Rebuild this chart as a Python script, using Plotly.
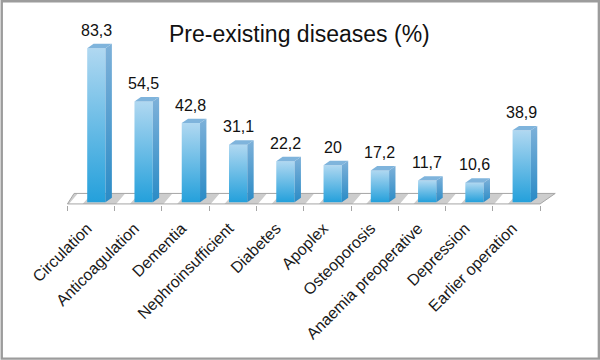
import plotly.graph_objects as go

categories = ["Circulation", "Anticoagulation", "Dementia", "Nephroinsufficient",
              "Diabetes", "Apoplex", "Osteoporosis", "Anaemia preoperative",
              "Depression", "Earlier operation"]
values = [83.3, 54.5, 42.8, 31.1, 22.2, 20, 17.2, 11.7, 10.6, 38.9]
value_labels = ["83,3", "54,5", "42,8", "31,1", "22,2", "20", "17,2", "11,7", "10,6", "38,9"]
title_text = "Pre-existing diseases (%)"

# 3D geometry (data units)
FL, FR = -0.082, 0.305     # front face extent relative to category center
DX, DY = 0.135, 2.4        # depth offset
FLOOR_FRONT, FLOOR_BACK = -0.92, 4.76

ML, MR, MT, MB = 57.5, 41.1, 30, 154.9
PW, PH = 600 - ML - MR, 360 - MT - MB

n = len(categories)
fig = go.Figure()

floor_x = [-0.5, -0.36, n - 0.5 + 0.32, n - 0.5, -0.5]
floor_y = [FLOOR_FRONT, FLOOR_BACK, FLOOR_BACK, FLOOR_FRONT, FLOOR_FRONT]
fig.add_trace(go.Scatter(x=floor_x, y=floor_y, mode="lines", fill="toself",
                         fillcolor="#cdcdcd", line=dict(width=0),
                         hoverinfo="skip", showlegend=False))
sx, sy = [], []
for k in range(n):
    b = k - 0.5
    sx += [b + 0.03, b + 0.22, b + 0.52, b + 0.32, b + 0.03, None]
    sy += [FLOOR_FRONT, FLOOR_BACK, FLOOR_BACK, FLOOR_FRONT, FLOOR_FRONT, None]
fig.add_trace(go.Scatter(x=sx, y=sy, mode="lines", fill="toself",
                         fillcolor="#ffffff", line=dict(width=0),
                         hoverinfo="skip", showlegend=False))
fig.add_trace(go.Scatter(x=floor_x, y=floor_y, mode="lines",
                         line=dict(color="#a6a6a6", width=1),
                         hoverinfo="skip", showlegend=False))

for i, v in enumerate(values):
    fig.add_trace(go.Scatter(
        x=[i + FL, i + FR, i + FR, i + FL, i + FL],
        y=[0, 0, v, v, 0], mode="lines", fill="toself",
        fillgradient=dict(type="vertical",
                          colorscale=[[0, "#24a0db"], [1, "#b0d8f1"]]),
        line=dict(width=0), hoverinfo="skip", showlegend=False))
    fig.add_trace(go.Scatter(
        x=[i + FR, i + FR + DX, i + FR + DX, i + FR, i + FR],
        y=[0, DY, v + DY, v, 0], mode="lines", fill="toself",
        fillgradient=dict(type="vertical",
                          colorscale=[[0, "#2a8bc6"], [1, "#7eb1d9"]]),
        line=dict(width=0), hoverinfo="skip", showlegend=False))
    fig.add_trace(go.Scatter(
        x=[i + FL, i + FR, i + FR + DX, i + FL + DX, i + FL],
        y=[v, v, v + DY, v + DY, v], mode="lines", fill="toself",
        fillcolor="#7fb4dc", line=dict(width=0),
        hoverinfo="skip", showlegend=False))
    fig.add_annotation(x=i + (FL + FR) / 2, y=v, text=value_labels[i],
                       showarrow=False, yanchor="middle", yshift=18,
                       font=dict(family="Liberation Sans, Arial", size=16, color="#111"))

fig.update_layout(
    width=600, height=360,
    margin=dict(l=ML, r=MR, t=MT, b=MB),
    paper_bgcolor="white", plot_bgcolor="rgba(0,0,0,0)",
    title=dict(text=title_text, x=0.499, xanchor="center", y=1 - 34 / 360,
               yanchor="middle",
               font=dict(family="Liberation Sans, Arial", size=23, color="#111")),
    xaxis=dict(range=[-0.7, 9.9], tickmode="array", tickvals=list(range(n)),
               ticktext=categories, tickangle=-45, ticks="", showgrid=False,
               zeroline=False, showline=False,
               ticklabelshift=-4, ticklabelstandoff=10,
               tickfont=dict(family="Liberation Sans, Arial", size=16, color="#1a1a1a"),
               minor=dict(tickmode="array", tickvals=[k - 0.5 for k in range(n + 1)],
                          ticks="outside", ticklen=5, tickcolor="#a6a6a6",
                          showgrid=False)),
    yaxis=dict(range=[-1.5, 93.18], visible=False, showgrid=False, zeroline=False),
    hovermode=False,
)
# outer gray border of the picture
fig.add_shape(type="rect", xref="paper", yref="paper",
              x0=-(ML - 1.2) / PW, x1=1 + (MR - 1.2) / PW,
              y0=-(MB - 1.2) / PH, y1=1 + (MT - 1.2) / PH,
              line=dict(color="#9c9c9c", width=2.4), layer="above")

fig.write_html("out.html", config={"displayModeBar": False},
               post_script="document.body.style.margin='0';document.body.style.padding='0';")
